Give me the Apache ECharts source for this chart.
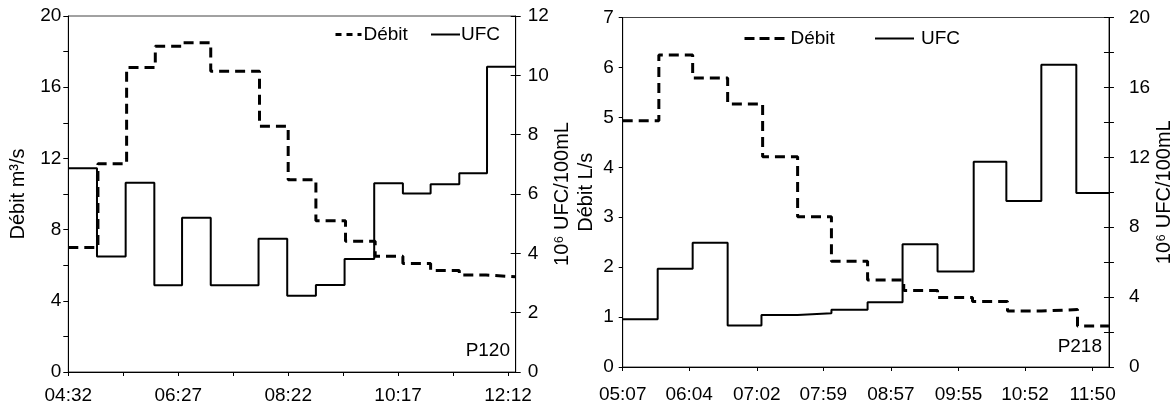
<!DOCTYPE html>
<html>
<head>
<meta charset="utf-8">
<script src="https://cdn.jsdelivr.net/npm/echarts@6/dist/echarts.min.js"></script>
<style>html,body{margin:0;padding:0;background:#fff}#c{width:1175px;height:408px}</style>
</head>
<body>
<div id="c"></div>
<script>
// ---- data ----
const leftTickLabels = ['04:32', '06:27', '08:22', '10:17', '12:12'];
const rightTickLabels = ['05:07', '06:04', '07:02', '07:59', '08:57', '09:55', '10:52', '11:50'];

// P120 (left panel)
const p120DebitTimes = ['04:32','05:03','05:33','06:03','06:31','07:01','07:52','08:22','08:51','09:22','09:53','10:22','10:51','11:21','11:49','12:20'];
const p120Debit = [7.0, 11.7, 17.1, 18.3, 18.5, 16.9, 13.8, 10.8, 8.5, 7.35, 6.5, 6.1, 5.7, 5.45, 5.35];
const p120UfcTimes = ['04:32','05:02','05:32','06:02','06:31','07:01','07:51','08:21','08:51','09:21','09:52','10:22','10:51','11:21','11:50','12:20'];
const p120Ufc = [6.87, 3.89, 6.38, 2.92, 5.2, 2.92, 4.49, 2.57, 2.93, 3.81, 6.36, 6.02, 6.33, 6.70, 10.29];

// P218 (right panel)
const p218DebitTimes = ['05:07','05:38','06:07','06:37','07:07','07:37','08:06','08:37','09:08','09:37','10:07','10:37','11:06','11:37','12:04'];
const p218Debit = [4.93, 6.25, 5.79, 5.27, 4.21, 3.01, 2.12, 1.74, 1.53, 1.39, 1.31, 1.12, 1.15, 0.82];
const p218UfcTimes = ['05:07','05:37','06:07','06:37','07:06','07:37','08:06','08:37','09:07','09:37','10:08','10:36','11:06','11:36','12:04'];
const p218Ufc = [2.73, 5.62, 7.11, 2.37, 2.98, 3.08, 3.27, 3.71, 7.03, 5.46, 11.75, 9.5, 17.3, 9.95];

// ---- helpers ----
const FONT = 'Liberation Sans, Arial, sans-serif';
function toMin(s) { const p = s.split(':'); return (+p[0]) * 60 + (+p[1]); }
function stepData(times, vals) {
  return times.map((t, i) => [toMin(t), vals[Math.min(i, vals.length - 1)]]);
}
const leftLabelVals = leftTickLabels.map(toMin);
const leftTickVals = [];
leftLabelVals.forEach((v, i) => { leftTickVals.push(v); if (i < leftLabelVals.length - 1) leftTickVals.push((v + leftLabelVals[i + 1]) / 2); });
const rightLabelVals = rightTickLabels.map(toMin);

function xLabelFmt(labels) {
  return function (v) {
    for (const l of labels) if (Math.abs(toMin(l) - v) < 0.01) return l;
    return '';
  };
}

const black = '#000';
const lblStyle = { fontFamily: FONT, fontSize: 19, color: black };
const nameStyle = { fontFamily: FONT, fontSize: 20, color: black };
const noSym = { color: 'rgba(0,0,0,0)', borderColor: 'rgba(0,0,0,0)', borderWidth: 0 };

function yAx(o) {
  return Object.assign({
    type: 'value',
    splitLine: { show: false },
    axisLine: { show: true, lineStyle: { color: black, width: 1 } },
    axisTick: { show: true, length: 5, lineStyle: { color: black } },
    axisLabel: Object.assign({ margin: 7 }, lblStyle),
    nameLocation: 'middle',
    nameTextStyle: nameStyle
  }, o);
}

const option = {
  animation: false,
  backgroundColor: '#fff',
  grid: [
    { left: 68.3, top: 16, width: 447.4, height: 356, show: true, borderColor: '#444', borderWidth: 1, containLabel: false },
    { left: 622.7, top: 17.5, width: 488.3, height: 349.5, show: true, borderColor: '#444', borderWidth: 1, containLabel: false }
  ],
  title: [
    { text: 'P120', right: 665, top: 341, padding: 0, textStyle: { fontFamily: FONT, fontSize: 19, fontWeight: 'normal', color: black } },
    { text: 'P218', right: 73, top: 337, padding: 0, textStyle: { fontFamily: FONT, fontSize: 19, fontWeight: 'normal', color: black } }
  ],
  legend: [
    { left: 334, top: 25, itemWidth: 26, itemHeight: 14, itemGap: 0, selectedMode: false, padding: 0,
      textStyle: Object.assign({ padding: [0, 0, 0, -3] }, lblStyle),
      data: [{ name: 'Débit', itemStyle: noSym, lineStyle: { type: [6, 5], width: 3 } }] },
    { left: 430, top: 25, itemWidth: 29, itemHeight: 14, itemGap: 0, selectedMode: false, padding: 0,
      textStyle: Object.assign({ padding: [0, 0, 0, -4] }, lblStyle),
      data: [{ name: 'UFC', itemStyle: noSym }] },
    { left: 743, top: 29, itemWidth: 42, itemHeight: 14, itemGap: 0, selectedMode: false, padding: 0,
      textStyle: Object.assign({ padding: [0, 0, 0, -1] }, lblStyle),
      data: [{ name: 'Débit', itemStyle: noSym, lineStyle: { type: [10, 5], width: 3 } }] },
    { left: 874, top: 29, itemWidth: 39, itemHeight: 14, itemGap: 0, selectedMode: false, padding: 0,
      textStyle: Object.assign({ padding: [0, 0, 0, 2] }, lblStyle),
      data: [{ name: 'UFC', itemStyle: noSym }] }
  ],
  xAxis: [
    { type: 'value', gridIndex: 0, min: 272, max: 740,
      splitLine: { show: false },
      axisLine: { show: true, onZero: false, lineStyle: { color: black } },
      axisTick: { show: true, length: 4, lineStyle: { color: black }, customValues: leftTickVals },
      axisLabel: Object.assign({ margin: 14, customValues: leftLabelVals, formatter: xLabelFmt(leftTickLabels) }, lblStyle) },
    { type: 'value', gridIndex: 1, min: 307, max: 724,
      splitLine: { show: false },
      axisLine: { show: true, onZero: false, lineStyle: { color: black } },
      axisTick: { show: true, length: 4, lineStyle: { color: black }, customValues: rightLabelVals },
      axisLabel: Object.assign({ margin: 18, customValues: rightLabelVals, formatter: xLabelFmt(rightTickLabels) }, lblStyle) }
  ],
  yAxis: [
    yAx({ gridIndex: 0, position: 'left', min: 0, max: 20, interval: 2, name: 'Débit m³/s', nameGap: 40,
      axisLabel: Object.assign({ margin: 7, formatter: v => (v % 4 === 0 ? String(v) : '') }, lblStyle) }),
    yAx({ gridIndex: 0, position: 'right', min: 0, max: 12, interval: 2, name: '10⁶ UFC/100mL', nameGap: 37,
      axisLabel: Object.assign({ margin: 12 }, lblStyle) }),
    yAx({ gridIndex: 0, position: 'right', min: 0, max: 12, interval: 2,
      axisLine: { show: false }, axisLabel: { show: false },
      axisTick: { show: true, inside: true, length: 5, lineStyle: { color: black } } }),
    yAx({ gridIndex: 1, position: 'left', min: 0, max: 7, interval: 1, name: 'Débit L/s', nameGap: 26,
      axisTick: { show: true, length: 4, lineStyle: { color: black } },
      axisLabel: Object.assign({ margin: 9 }, lblStyle) }),
    yAx({ gridIndex: 1, position: 'right', min: 0, max: 20, interval: 2, name: '10⁶ UFC/100mL', nameGap: 41,
      axisLabel: Object.assign({ margin: 20, formatter: v => (v % 4 === 0 ? String(v) : '') }, lblStyle) }),
    yAx({ gridIndex: 1, position: 'right', min: 0, max: 20, interval: 2,
      axisLine: { show: false }, axisLabel: { show: false },
      axisTick: { show: true, inside: true, length: 5, lineStyle: { color: black } } })
  ],
  series: [
    { name: 'Débit', type: 'line', step: 'end', xAxisIndex: 0, yAxisIndex: 0, symbol: 'none', showSymbol: false,
      lineStyle: { color: black, width: 3, type: [10, 6] }, itemStyle: { color: black },
      data: stepData(p120DebitTimes, p120Debit) },
    { name: 'UFC', type: 'line', step: 'end', xAxisIndex: 0, yAxisIndex: 1, symbol: 'none', showSymbol: false,
      lineStyle: { color: black, width: 2, type: 'solid' }, itemStyle: { color: black },
      data: stepData(p120UfcTimes, p120Ufc) },
    { name: 'Débit', type: 'line', step: 'end', xAxisIndex: 1, yAxisIndex: 3, symbol: 'none', showSymbol: false,
      lineStyle: { color: black, width: 3, type: [10, 6] }, itemStyle: { color: black },
      data: stepData(p218DebitTimes, p218Debit) },
    { name: 'UFC', type: 'line', step: 'end', xAxisIndex: 1, yAxisIndex: 4, symbol: 'none', showSymbol: false,
      lineStyle: { color: black, width: 2, type: 'solid' }, itemStyle: { color: black },
      data: stepData(p218UfcTimes, p218Ufc) }
  ]
};

const chart = echarts.init(document.getElementById('c'), null, { renderer: 'canvas' });
chart.setOption(option);
</script>
</body>
</html>
